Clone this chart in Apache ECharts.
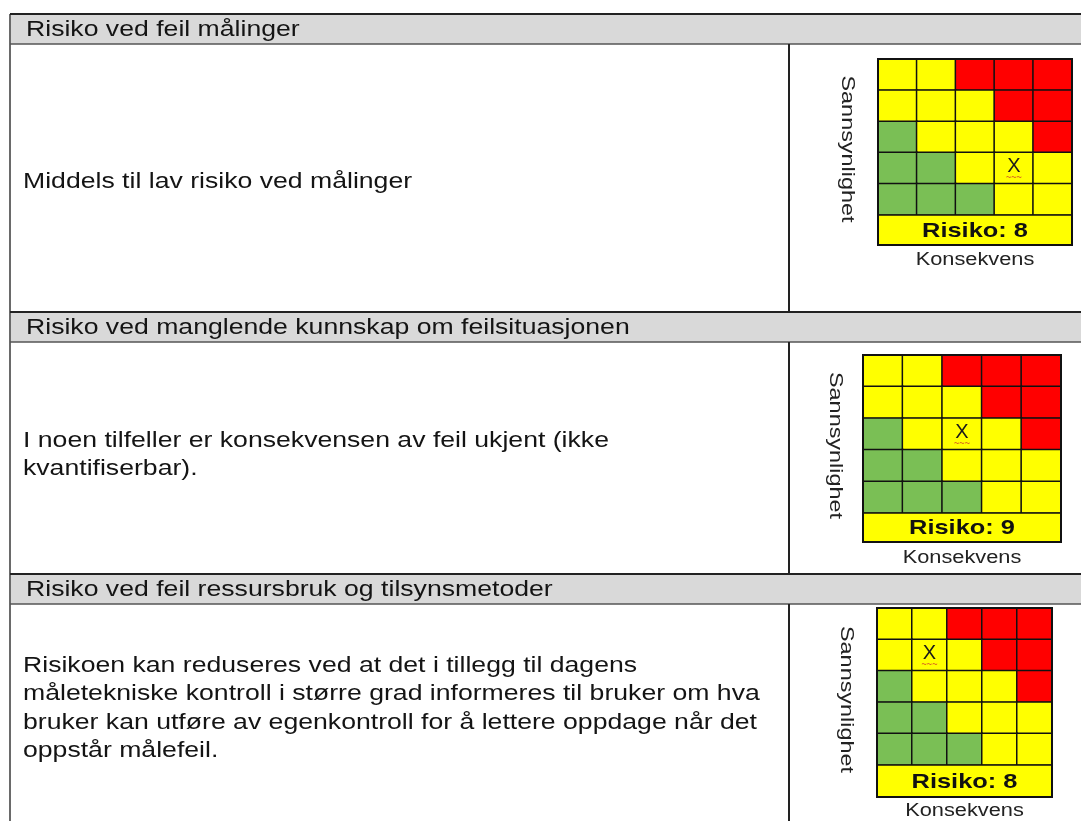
<!DOCTYPE html>
<html><head><meta charset="utf-8">
<script src="https://cdn.jsdelivr.net/npm/echarts@6/dist/echarts.min.js"></script>
<style>html,body{margin:0;padding:0;background:#fff}#c{width:1081px;height:821px}</style>
</head><body><div id="c"></div>
<script>
// ---------- data ----------
const headers = [
  'Risiko ved feil målinger',
  'Risiko ved manglende kunnskap om feilsituasjonen',
  'Risiko ved feil ressursbruk og tilsynsmetoder'
];
const bodyLines = [
  ['Middels til lav risiko ved målinger'],
  ['I noen tilfeller er konsekvensen av feil ukjent (ikke', 'kvantifiserbar).'],
  ['Risikoen kan reduseres ved at det i tillegg til dagens',
   'måletekniske kontroll i større grad informeres til bruker om hva',
   'bruker kan utføre av egenkontroll for å lettere oppdage når det',
   'oppstår målefeil.']
];
const consCats = ['1', '2', '3', '4', '5'];   // Konsekvens
const probCats = ['1', '2', '3', '4', '5'];   // Sannsynlighet
// risk level per cell; rows from probability 5 (top) to 1 (bottom); 0 = green, 1 = yellow, 2 = red
const levelGrid = [
  [1, 1, 2, 2, 2],
  [1, 1, 1, 2, 2],
  [0, 1, 1, 1, 2],
  [0, 0, 1, 1, 1],
  [0, 0, 0, 1, 1]
];
const markProb = [2, 3, 4];
const markCons = [4, 3, 2];
const riskValues = [8, 9, 8];
const xName = 'Konsekvens';
const yName = 'Sannsynlighet';
const riskWord = 'Risiko';
const markText = 'X';

// ---------- layout / style ----------
const levelColors = ['#7ABF55', '#FFFF00', '#FF0000'];
const FONT = '"Liberation Sans", Arial, sans-serif';
const SX = 1.21;
const W = 1081, H = 821;
const tableLeft = 10;
const divX = 789;
const headerTops = [14, 312, 574];
const headerH = 30;
const rowEnds = [312, 574, 830];
const textX = 23;
const bodyStarts = [182, 441, 666];
const lineGap = 28.3;
const boxes = [
  {l: 878, t: 59, w: 194, h: 156, band: 30, kGap: 15, sOff: 31},
  {l: 863, t: 355, w: 198, h: 158, band: 29, kGap: 16, sOff: 28},
  {l: 877, t: 608, w: 175, h: 157, band: 32, kGap: 14, sOff: 31}
];

const chart = echarts.init(document.getElementById('c'), null, {renderer: 'canvas'});

function txt(x, y, text, size, opts) {
  opts = opts || {};
  return {
    type: 'text', x: x, y: y, rotation: opts.rotation || 0,
    scaleX: opts.scaleX || SX, scaleY: 1, z: opts.z || 5,
    style: {
      text: text, fill: opts.fill || '#141414',
      font: (opts.bold ? 'bold ' : '') + size + 'px ' + FONT,
      textAlign: opts.align || 'left', textVerticalAlign: 'middle',
      align: opts.align || 'left', verticalAlign: 'middle'
    }
  };
}

const graphic = [];
graphic.push({type: 'line', shape: {x1: tableLeft, y1: headerTops[0], x2: tableLeft, y2: H}, style: {stroke: '#6a6a6a', lineWidth: 2}, z: 1});
headers.forEach((h, i) => {
  const t = headerTops[i];
  graphic.push({type: 'rect', shape: {x: tableLeft, y: t, width: W - tableLeft, height: headerH}, style: {fill: '#D9D9D9'}, z: 0});
  graphic.push({type: 'line', shape: {x1: tableLeft, y1: t, x2: W, y2: t}, style: {stroke: '#222', lineWidth: 2}, z: 1});
  graphic.push({type: 'line', shape: {x1: tableLeft, y1: t + headerH, x2: W, y2: t + headerH}, style: {stroke: '#555', lineWidth: 1.5}, z: 1});
  graphic.push({type: 'line', shape: {x1: divX, y1: t + headerH, x2: divX, y2: rowEnds[i]}, style: {stroke: '#222', lineWidth: 2}, z: 1});
  graphic.push(txt(26, t + headerH / 2 + 1, h, 22));
  bodyLines[i].forEach((ln, k) => {
    graphic.push(txt(textX, bodyStarts[i] + k * lineGap, ln, 22));
  });
});
boxes.forEach((b, i) => {
  const bandTop = b.t + b.h;
  graphic.push({type: 'rect', z: 10, shape: {x: b.l, y: bandTop, width: b.w, height: b.band},
    style: {fill: '#FFFF00', stroke: '#111', lineWidth: 1.5}});
  graphic.push({type: 'rect', z: 11, shape: {x: b.l, y: b.t, width: b.w, height: b.h + b.band},
    style: {fill: 'none', stroke: '#111', lineWidth: 2}});
  graphic.push(txt(b.l + b.w / 2, bandTop + b.band / 2 + 1, riskWord + ': ' + riskValues[i], 21, {bold: true, align: 'center', z: 12, fill: '#111'}));
  graphic.push(txt(b.l + b.w / 2, bandTop + b.band + b.kGap, xName, 18, {align: 'center', fill: '#222'}));
  graphic.push(txt(b.l - b.sOff, b.t + (b.h + b.band) / 2 - 3, yName, 18, {align: 'center', rotation: -Math.PI / 2, fill: '#222', scaleX: 1.3}));
});

const grids = [], xAxes = [], yAxes = [], series = [];
boxes.forEach((b, i) => {
  grids.push({left: b.l, top: b.t, width: b.w, height: b.h, containLabel: false});
  const ax = {axisLine: {show: false}, axisTick: {show: false}, axisLabel: {show: false}, splitLine: {show: false}};
  xAxes.push(Object.assign({gridIndex: i, type: 'category', data: consCats}, ax));
  yAxes.push(Object.assign({gridIndex: i, type: 'category', data: probCats}, ax));
  const data = [];
  levelGrid.forEach((row, r) => {
    row.forEach((lv, c) => {
      const yIdx = probCats.length - 1 - r;
      const item = {value: [c, yIdx, lv], itemStyle: {color: levelColors[lv]}};
      if (consCats[c] === String(markCons[i]) && probCats[yIdx] === String(markProb[i])) {
        item.label = {
          show: true, formatter: '{x|' + markText + '}\n{u|~~~}', offset: [0, 1],
          textBorderWidth: 0,
          rich: {
            x: {fontSize: 20, fontFamily: FONT, color: '#1a1a1a', lineHeight: 17, align: 'center', textBorderWidth: 0},
            u: {fontSize: 9, fontWeight: 'bold', color: '#d9661f', lineHeight: 6, align: 'center', textBorderWidth: 0}
          }
        };
      }
      data.push(item);
    });
  });
  series.push({
    type: 'heatmap', xAxisIndex: i, yAxisIndex: i, data: data,
    itemStyle: {borderColor: '#111', borderWidth: 1.5},
    label: {show: false},
    emphasis: {disabled: true}, silent: true
  });
});

chart.setOption({
  animation: false,
  backgroundColor: '#ffffff',
  grid: grids, xAxis: xAxes, yAxis: yAxes, series: series,
  graphic: graphic
});
</script>
</body></html>
